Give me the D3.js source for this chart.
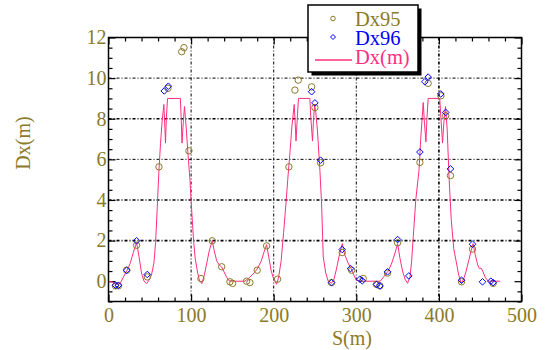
<!DOCTYPE html>
<html>
<head>
<meta charset="utf-8">
<script src="https://cdn.jsdelivr.net/npm/d3@7"></script>
<style>
  body { margin: 0; background: #fff; }
  svg { display: block; }
</style>
</head>
<body>
<svg id="plot" width="546" height="350" font-family="Liberation Serif"></svg>
<script>
// values
const dxS = [0, 5, 10, 14, 18, 22, 26, 30, 34, 37, 40, 43, 46, 49, 52, 55, 57, 59, 61, 63, 65, 67, 68, 69, 70, 71.5, 87, 88, 89, 90.5, 92, 94, 96, 98.6, 101, 103, 105, 108, 110, 113,
  116, 119, 122, 125.6, 128, 131, 134, 137, 140, 143, 146, 150, 165, 170, 175, 180, 185, 188, 191.4, 194, 197, 200, 203.5, 206, 209, 212, 214.8, 217, 220, 222, 224.8, 226, 227, 228.5, 230,
  243.8, 245, 247, 248, 249.5, 251, 253, 256, 258, 260, 263, 266, 270, 273, 276, 279, 283, 286, 290, 294, 297, 300, 305, 329, 333, 338.6, 343, 347, 350, 353, 356, 359, 362,
  365, 367, 369, 372, 376, 378, 381, 382.5, 384.3, 385.5, 387, 401, 402.5, 404.4, 406, 408, 410, 412.4, 415, 418, 421, 424, 427, 430, 433, 436, 439, 441.4, 444, 447, 449, 451, 453, 456, 459.6, 474];
const dxV = [0, -0.05, -0.15, -0.12, 0.2, 0.5, 0.85, 1.4, 1.9, 1.2, 0.4, 0.0, -0.12, 0.05, 0.3, 0.9, 1.9, 3.6, 5.4, 6.8, 7.9, 8.7, 7.8, 6.8, 8.0, 9.0, 9.0, 8.0, 6.8, 7.8, 8.6, 7.6, 6.4, 5.0, 3.3, 2.0, 1.1, 0.4, 0.05, -0.12,
  0.3, 0.9, 1.5, 2.0, 1.5, 1.0, 0.8, 0.7, 0.45, 0.2, 0.02, 0, 0, 0.15, 0.35, 0.6, 1.0, 1.4, 1.8, 1.2, 0.5, 0.1, -0.15, 0.2, 1.0, 2.4, 3.8, 5.0, 6.5, 7.6, 8.7, 7.8, 6.9, 8.0, 9.0,
  9.0, 8.0, 6.9, 7.8, 8.7, 8.3, 7.4, 5.4, 3.8, 1.2, 0.4, 0.0, -0.1, 0.1, 0.6, 1.2, 1.85, 1.3, 0.9, 0.6, 0.3, 0.05, 0, 0, 0.2, 0.5, 0.9, 1.4, 1.85, 1.1, 0.5, 0.1, -0.1,
  0.2, 1.0, 2.2, 4.0, 5.5, 7.0, 8.8, 7.8, 6.86, 8.0, 9.0, 9.0, 8.0, 6.8, 7.8, 8.6, 7.5, 5.0, 3.0, 1.6, 0.95, 0.3, -0.1, 0.1, 0.5, 1.0, 1.5, 1.85, 1.3, 0.8, 0.62, 0.65, 0.5, 0.2, 0.0, 0.0];

const dx95S = [8.5, 12, 22, 34, 47, 61.1, 72, 88.6, 91.4, 97.4, 111.9, 125.6, 137, 147, 150.3, 167.2, 171.2, 180, 191.4, 204.7, 218.4, 225.7, 229.7, 245.9, 249.9, 256.8, 270, 283, 294.3, 308.4, 324.5, 328.5, 337.8, 350, 377, 387, 402.4, 408.2, 414, 427.4, 440.7, 465.7];
const dx95V = [-0.23, -0.23, 0.54, 1.77, 0.21, 5.63, 9.5, 11.3, 11.5, 6.42, 0.13, 1.99, 0.71, -0.03, -0.11, 0, -0.07, 0.54, 1.74, 0.1, 5.63, 9.41, 9.9, 9.57, 8.55, 5.83, -0.07, 1.41, 0.54, 0.13, -0.16, -0.23, 0.4, 1.89, 5.85, 9.74, 9.13, 8.15, 5.2, -0.03, 1.58, -0.11];

const dx96S = [8.5, 12, 22, 34, 47, 67.5, 72.4, 245.9, 249.9, 256.8, 270, 283, 293, 304.3, 307.2, 324.5, 328.5, 337.8, 350, 363.6, 377, 383, 387, 402.3, 408.2, 414, 427.4, 440.7, 452.8, 462.9, 465.7];
const dx96V = [-0.2, -0.2, 0.54, 1.99, 0.33, 9.37, 9.6, 9.33, 8.78, 5.96, -0.07, 1.56, 0.62, 0.1, 0.02, -0.16, -0.23, 0.46, 2.05, 0.26, 6.36, 9.82, 10.05, 9.22, 8.31, 5.53, 0.05, 1.82, -0.03, 0, -0.07];

const xTicks = [0, 100, 200, 300, 400, 500];
const yTicks = [0, 2, 4, 6, 8, 10, 12];

const olive = '#8b7a28', blue = '#0000ff', pink = '#ff2f7f';
const serif = 'Liberation Serif';

const svg = d3.select('#plot');
const margin = {top: 37.5, left: 108.5, right: 24.5, bottom: 48.5};
const w = 546 - margin.left - margin.right;
const h = 350 - margin.top - margin.bottom;
const g = svg.append('g').attr('transform', `translate(${margin.left},${margin.top})`);

const x = d3.scaleLinear().domain([0, 500]).range([0, w]);
const y = d3.scaleLinear().domain([-1, 12]).range([h, 0]);

// grid
g.append('g').selectAll('line').data(yTicks.filter(d => d > 0 && d < 12)).join('line')
  .attr('x1', 0).attr('x2', w).attr('y1', d => y(d)).attr('y2', d => y(d))
  .attr('stroke', '#000').attr('stroke-width', d => (d === 2 || d === 4 || d === 8) ? 1.6 : 1)
  .attr('stroke-dasharray', '3,2,1,2');
g.append('g').selectAll('line').data(xTicks.filter(d => d > 0 && d < 500)).join('line')
  .attr('y1', 0).attr('y2', h).attr('x1', d => x(d)).attr('x2', d => x(d))
  .attr('stroke', '#000').attr('stroke-width', d => d === 400 ? 1.6 : 1)
  .attr('stroke-dasharray', '3,2,1,2');

// ticks, pointing inward on all four sides
const minorX = d3.range(0, 501, 20).filter(d => d % 100 !== 0);
const minorY = d3.range(-1, 12.01, 0.5).filter(d => d % 2 !== 0);
function tickAxes(axisFn, scale, major, minor, t) {
  const a = g.append('g').attr('transform', t);
  a.append('g').call(axisFn(scale).tickValues(major).tickSize(-7).tickFormat(''));
  a.append('g').call(axisFn(scale).tickValues(minor).tickSize(-4).tickFormat(''));
  a.selectAll('.domain').remove();
  a.selectAll('line').attr('stroke', '#000').attr('stroke-width', 1.2);
}
tickAxes(d3.axisBottom, x, xTicks, minorX, `translate(0,${h})`);
tickAxes(d3.axisTop, x, xTicks, minorX, 'translate(0,0)');
tickAxes(d3.axisLeft, y, yTicks, minorY, 'translate(0,0)');
tickAxes(d3.axisRight, y, yTicks, minorY, `translate(${w},0)`);

// tick labels
const xl = g.append('g').attr('transform', `translate(0,${h})`)
  .call(d3.axisBottom(x).tickValues(xTicks).tickSize(0).tickPadding(6).tickFormat(d3.format('d')));
xl.select('.domain').remove();
xl.attr('font-family', serif).attr('font-size', 20);
xl.selectAll('text').attr('fill', olive);
const yl = g.append('g')
  .call(d3.axisLeft(y).tickValues(yTicks).tickSize(0).tickPadding(2).tickFormat(d3.format('d')));
yl.select('.domain').remove();
yl.attr('font-family', serif).attr('font-size', 20);
yl.selectAll('text').attr('fill', olive);

// axis titles
svg.append('text').attr('x', 352).attr('y', 345).attr('text-anchor', 'middle')
  .attr('font-size', 20).attr('fill', olive).text('S(m)');
svg.append('text').attr('transform', 'translate(30,143) rotate(-90)').attr('text-anchor', 'middle')
  .attr('font-size', 20).attr('fill', olive).text('Dx(m)');

// Dx(m) line
const linePts = dxS.map((s, i) => [s, dxV[i]]);
g.append('path').datum(linePts)
  .attr('d', d3.line().x(d => x(d[0])).y(d => y(d[1])))
  .attr('fill', 'none').attr('stroke', pink).attr('stroke-width', 1);

// Dx95 circles
g.append('g').selectAll('circle').data(dx95S.map((s, i) => [s, dx95V[i]])).join('circle')
  .attr('cx', d => x(d[0])).attr('cy', d => y(d[1])).attr('r', 3.2)
  .attr('fill', 'none').attr('stroke', olive).attr('stroke-width', 1);

// Dx96 diamonds
const diamond = 'M0,-3.3L3.3,0L0,3.3L-3.3,0Z';
g.append('g').selectAll('path').data(dx96S.map((s, i) => [s, dx96V[i]])).join('path')
  .attr('transform', d => `translate(${x(d[0])},${y(d[1])})`).attr('d', diamond)
  .attr('fill', 'none').attr('stroke', blue).attr('stroke-width', 1);

// frame
g.append('rect').attr('width', w).attr('height', h)
  .attr('fill', 'none').attr('stroke', '#000').attr('stroke-width', 1.5);

// legend with drop shadow
const lg = svg.append('g').attr('transform', 'translate(308,5)');
lg.append('rect').attr('x', 3.5).attr('y', 3.5).attr('width', 110).attr('height', 67).attr('fill', '#000');
lg.append('rect').attr('width', 110).attr('height', 67).attr('fill', '#fff')
  .attr('stroke', '#000').attr('stroke-width', 1.5);
lg.append('circle').attr('cx', 25).attr('cy', 13.5).attr('r', 2.3)
  .attr('fill', 'none').attr('stroke', olive).attr('stroke-width', 1);
lg.append('path').attr('transform', 'translate(25,32)').attr('d', 'M0,-2.5L2.5,0L0,2.5L-2.5,0Z')
  .attr('fill', 'none').attr('stroke', blue).attr('stroke-width', 1);
lg.append('line').attr('x1', 7).attr('x2', 44).attr('y1', 55).attr('y2', 55)
  .attr('stroke', pink).attr('stroke-width', 1.3);
lg.append('text').attr('x', 47).attr('y', 21).attr('font-size', 20.5).attr('fill', olive).text('Dx95');
lg.append('text').attr('x', 47).attr('y', 39.5).attr('font-size', 20.5).attr('fill', blue).text('Dx96');
lg.append('text').attr('x', 47).attr('y', 58.5).attr('font-size', 20.5).attr('fill', pink).text('Dx(m)');
</script>
</body>
</html>
